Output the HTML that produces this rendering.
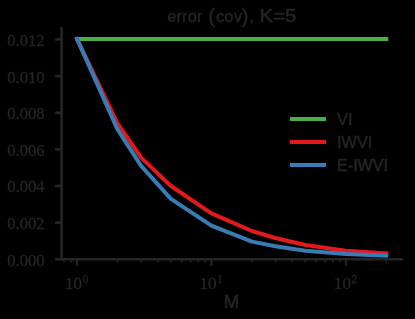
<!DOCTYPE html>
<html><head><meta charset="utf-8"><style>
html,body{margin:0;padding:0;background:#000;}
body{width:415px;height:319px;overflow:hidden;}
svg{display:block;will-change:transform;opacity:0.999}
text{fill:#262626}
.s{stroke:#262626;stroke-width:0.3px}
.s{font-family:"Liberation Serif",serif}
.n{font-family:"Liberation Sans",sans-serif}
</style></head><body>
<svg width="415" height="319" viewBox="0 0 415 319">
<rect width="415" height="319" fill="#000"/>

<polyline points="77.0,38.9 386.3,38.9" fill="none" stroke="#4daf4a" stroke-width="4" stroke-linecap="square"/>
<polyline points="77.0,38.9 117.5,123.5 141.1,157.6 170.9,186.0 211.4,213.3 251.9,231.0 275.5,238.0 305.3,245.0 345.8,250.8 386.3,253.3" fill="none" stroke="#e41a1c" stroke-width="4" stroke-linejoin="round" stroke-linecap="square"/>
<polyline points="77.0,38.9 117.5,129.5 141.1,165.8 170.9,198.8 211.4,225.7 251.9,241.6 275.5,246.2 305.3,250.8 345.8,254.0 386.3,255.6" fill="none" stroke="#377eb8" stroke-width="4" stroke-linejoin="round" stroke-linecap="square"/>
<rect x="60.3" y="27" width="2.6" height="233.5" fill="#262626"/>
<rect x="60.3" y="258.0" width="342.6" height="2.5" fill="#262626"/>
<rect x="55.1" y="258.0" width="6" height="2.6" fill="#262626"/>
<text class="s" x="7.2" y="265.7" font-size="17.2" textLength="37.5" lengthAdjust="spacingAndGlyphs">0.000</text>
<rect x="55.1" y="221.4" width="6" height="2.6" fill="#262626"/>
<text class="s" x="7.2" y="229.1" font-size="17.2" textLength="37.5" lengthAdjust="spacingAndGlyphs">0.002</text>
<rect x="55.1" y="184.7" width="6" height="2.6" fill="#262626"/>
<text class="s" x="7.2" y="192.4" font-size="17.2" textLength="37.5" lengthAdjust="spacingAndGlyphs">0.004</text>
<rect x="55.1" y="148.1" width="6" height="2.6" fill="#262626"/>
<text class="s" x="7.2" y="155.8" font-size="17.2" textLength="37.5" lengthAdjust="spacingAndGlyphs">0.006</text>
<rect x="55.1" y="111.5" width="6" height="2.6" fill="#262626"/>
<text class="s" x="7.2" y="119.2" font-size="17.2" textLength="37.5" lengthAdjust="spacingAndGlyphs">0.008</text>
<rect x="55.1" y="74.8" width="6" height="2.6" fill="#262626"/>
<text class="s" x="7.2" y="82.5" font-size="17.2" textLength="37.5" lengthAdjust="spacingAndGlyphs">0.010</text>
<rect x="55.1" y="38.2" width="6" height="2.6" fill="#262626"/>
<text class="s" x="7.2" y="45.9" font-size="17.2" textLength="37.5" lengthAdjust="spacingAndGlyphs">0.012</text>
<rect x="76.0" y="259" width="2.0" height="6.8" fill="#262626"/>
<text class="s" x="65.0" y="288.7" font-size="17.2" textLength="17.2" lengthAdjust="spacingAndGlyphs">10</text>
<text class="s" x="82.8" y="282.8" font-size="12.4" textLength="5.6" lengthAdjust="spacingAndGlyphs">0</text>
<rect x="210.4" y="259" width="2.0" height="6.8" fill="#262626"/>
<text class="s" x="199.4" y="288.7" font-size="17.2" textLength="17.2" lengthAdjust="spacingAndGlyphs">10</text>
<text class="s" x="217.2" y="282.8" font-size="12.4" textLength="5.6" lengthAdjust="spacingAndGlyphs">1</text>
<rect x="344.8" y="259" width="2.0" height="6.8" fill="#262626"/>
<text class="s" x="333.8" y="288.7" font-size="17.2" textLength="17.2" lengthAdjust="spacingAndGlyphs">10</text>
<text class="s" x="351.6" y="282.8" font-size="12.4" textLength="5.6" lengthAdjust="spacingAndGlyphs">2</text>
<rect x="63.2" y="259" width="1.5" height="3.7" fill="#262626"/>
<rect x="70.1" y="259" width="1.5" height="3.7" fill="#262626"/>
<rect x="116.7" y="259" width="1.5" height="3.7" fill="#262626"/>
<rect x="140.4" y="259" width="1.5" height="3.7" fill="#262626"/>
<rect x="157.2" y="259" width="1.5" height="3.7" fill="#262626"/>
<rect x="170.2" y="259" width="1.5" height="3.7" fill="#262626"/>
<rect x="180.8" y="259" width="1.5" height="3.7" fill="#262626"/>
<rect x="189.8" y="259" width="1.5" height="3.7" fill="#262626"/>
<rect x="197.6" y="259" width="1.5" height="3.7" fill="#262626"/>
<rect x="204.5" y="259" width="1.5" height="3.7" fill="#262626"/>
<rect x="251.1" y="259" width="1.5" height="3.7" fill="#262626"/>
<rect x="274.8" y="259" width="1.5" height="3.7" fill="#262626"/>
<rect x="291.6" y="259" width="1.5" height="3.7" fill="#262626"/>
<rect x="304.6" y="259" width="1.5" height="3.7" fill="#262626"/>
<rect x="315.2" y="259" width="1.5" height="3.7" fill="#262626"/>
<rect x="324.2" y="259" width="1.5" height="3.7" fill="#262626"/>
<rect x="332.0" y="259" width="1.5" height="3.7" fill="#262626"/>
<rect x="338.9" y="259" width="1.5" height="3.7" fill="#262626"/>
<rect x="385.5" y="259" width="1.5" height="3.7" fill="#262626"/>
<text class="n" x="167.3" y="21.7" font-size="17" stroke="#262626" stroke-width="0.35" textLength="35.2" lengthAdjust="spacingAndGlyphs">error</text>
<text class="n" x="208.3" y="22.7" font-size="21" stroke="#262626" stroke-width="0.3">(</text>
<text class="n" x="216.0" y="21.7" font-size="17" stroke="#262626" stroke-width="0.35" textLength="26.0" lengthAdjust="spacingAndGlyphs">cov</text>
<text class="n" x="241.6" y="22.7" font-size="21" stroke="#262626" stroke-width="0.3">)</text>
<text class="n" x="249.3" y="21.7" font-size="17" stroke="#262626" stroke-width="0.35">,</text>
<text class="n" x="259.6" y="21.7" font-size="18.7" stroke="#262626" stroke-width="0.5" textLength="36.8" lengthAdjust="spacingAndGlyphs">K=5</text>
<text class="n" x="223.8" y="307.9" font-size="18.1" stroke="#262626" stroke-width="0.5" textLength="15.5" lengthAdjust="spacingAndGlyphs">M</text>
<rect x="290" y="117.0" width="36" height="4" fill="#4daf4a"/>
<text class="n" x="337.1" y="124.8" font-size="16.3" stroke="#262626" stroke-width="0.45" textLength="15.6" lengthAdjust="spacingAndGlyphs">VI</text>
<rect x="290" y="140.0" width="36" height="4" fill="#e41a1c"/>
<text class="n" x="337.1" y="147.8" font-size="16.3" stroke="#262626" stroke-width="0.45" textLength="35.1" lengthAdjust="spacingAndGlyphs">IWVI</text>
<rect x="290" y="163.0" width="36" height="4" fill="#377eb8"/>
<text class="n" x="337.1" y="170.8" font-size="16.3" stroke="#262626" stroke-width="0.45" textLength="50.8" lengthAdjust="spacingAndGlyphs">E-IWVI</text>
</svg></body></html>
